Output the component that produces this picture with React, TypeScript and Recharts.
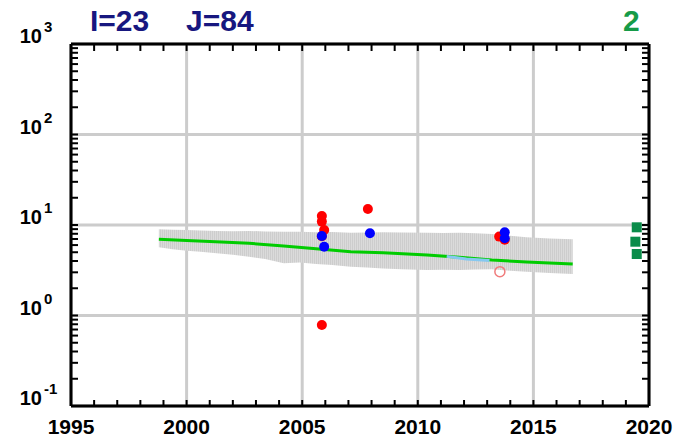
import React from 'react';
import { ComposedChart, XAxis, YAxis, CartesianGrid, Area, Line, Scatter } from 'recharts';

// axis ticks
const yearLabels = [1995, 2000, 2005, 2010, 2015, 2020];
const yearTicks = [1995, 1996, 1997, 1998, 1999, 2000, 2001, 2002, 2003, 2004, 2005, 2006, 2007, 2008, 2009, 2010, 2011, 2012, 2013, 2014, 2015, 2016, 2017, 2018, 2019, 2020];
const decades = [0.1, 1, 10, 100, 1000];
const mantissas = [1, 2, 3, 4, 5, 6, 7, 8, 9];
const minorTicks = decades.slice(0, 4).flatMap(d => mantissas.map(m => +(d * m).toPrecision(3))).concat([1000]);
const X_MIN = 1995, X_MAX = 2020, Y_MIN = 0.1, Y_MAX = 1000;

// grey spread band
const bandYears = [1998.8, 1999.4, 2000.0, 2000.6, 2001.3, 2002.0, 2002.7, 2003.4, 2004.2, 2004.9, 2005.6, 2006.3, 2007.1, 2007.8, 2008.5, 2009.3, 2010.4, 2011.1, 2011.8, 2012.5, 2013.2, 2014.0, 2014.7, 2015.7, 2016.7];
const bandHigh = [8.96, 8.85, 8.8, 8.7, 8.6, 8.55, 8.59, 8.5, 8.43, 8.4, 8.3, 8.35, 8.22, 8.28, 8.3, 8.25, 8.22, 8.15, 8.2, 8.1, 7.95, 7.6, 7.31, 7.1, 6.95];
const bandLow = [5.67, 5.4, 5.2, 5.05, 4.87, 4.7, 4.47, 4.2, 3.78, 3.85, 3.71, 3.62, 3.46, 3.4, 3.3, 3.25, 3.18, 3.2, 3.18, 3.22, 3.24, 3.12, 3.05, 2.95, 2.87];

// green trend line
const trendYears = [1998.8, 2000.0, 2001.5, 2002.7, 2004.2, 2005.6, 2007.1, 2008.5, 2010.4, 2011.8, 2013.2, 2014.7, 2016.7];
const trendVals = [6.95, 6.75, 6.5, 6.28, 5.86, 5.47, 5.07, 4.95, 4.66, 4.4, 4.11, 3.9, 3.71];

// light blue segment
const cyanYears = [2011.25, 2012.1, 2013.1];
const cyanVals = [4.5, 4.2, 4.05];

// observations
const redYears = [2005.85, 2005.85, 2005.95, 2005.85, 2007.84, 2013.52, 2013.76, 2005.85];
const redVals = [12.6, 10.9, 8.8, 7.5, 15.0, 7.44, 6.87, 0.785];
const blueYears = [2005.85, 2005.95, 2007.93, 2013.76, 2013.76];
const blueVals = [7.56, 5.76, 8.1, 8.3, 7.13];
const openYears = [2013.55];
const openVals = [3.05];
const squareYears = [2019.47, 2019.41, 2019.47];
const squareVals = [9.43, 6.54, 4.78];

const pts = (xs: number[], ys: number[]) => xs.map((x, i) => ({ x, y: ys[i] }));
const bandData = bandYears.map((x, i) => ({ x, range: [bandLow[i], bandHigh[i]] }));
const bottomTicks = yearTicks.map(x => ({ x, y: Y_MIN }));
const topTicks = yearTicks.map(x => ({ x, y: Y_MAX }));
const leftTicks = minorTicks.map(y => ({ x: X_MIN, y }));
const rightTicks = minorTicks.map(y => ({ x: X_MAX, y }));

const FONT = '"Liberation Sans", Arial, sans-serif';

const XTick = (props: any) => (
  <text x={props.x} y={434} textAnchor="middle" fontSize={21} fontWeight="bold" fontFamily={FONT} fill="#000">
    {props.payload.value}
  </text>
);

const YTick = (props: any) => {
  const exp = Math.round(Math.log10(props.payload.value));
  return (
    <g>
      <text x={42} y={props.y - 1} textAnchor="end" fontSize={20} fontWeight="bold" fontFamily={FONT} fill="#000">10</text>
      <text x={44} y={props.y - 12} textAnchor="start" fontSize={15} fontWeight="bold" fontFamily={FONT} fill="#000">{exp}</text>
    </g>
  );
};

const dot = (color: string) => (p: any) => <circle cx={p.cx} cy={p.cy} r={5} fill={color} />;
const ring = (p: any) => <circle cx={p.cx} cy={p.cy} r={5} fill="none" stroke="#f07c7c" strokeWidth={1.5} />;
const square = (p: any) => <rect x={p.cx - 5} y={p.cy - 5} width={10} height={10} fill="#0a8c4a" />;
// small inward tick marks on the frame
const mark = (dx: number, dy: number) => (p: any) =>
  <line x1={p.cx} y1={p.cy} x2={p.cx + dx} y2={p.cy + dy} stroke="#000" strokeWidth={2} />;

const frame = { stroke: '#000', strokeWidth: 3 };

export default function App() {
  return (
    <div style={{ position: 'absolute', left: 0, top: 0, width: 698, height: 443, background: '#fff' }}>
      <ComposedChart width={698} height={443} margin={{ top: 44, right: 49, bottom: 0, left: 0 }}>
        <defs>
          <pattern id="hatch" width="2" height="4" patternUnits="userSpaceOnUse">
            <rect x="0" y="0" width="1" height="4" fill="#cdcdcd" />
            <rect x="1" y="0" width="1" height="4" fill="#dbdbdb" />
          </pattern>
        </defs>
        <XAxis xAxisId="main" dataKey="x" type="number" domain={[X_MIN, X_MAX]} ticks={yearLabels} interval={0}
          allowDataOverflow height={37} tickLine={false} axisLine={frame} tick={<XTick />} />
        <XAxis xAxisId="top" orientation="top" type="number" domain={[X_MIN, X_MAX]} ticks={yearLabels}
          allowDataOverflow mirror tick={false} tickLine={false} axisLine={frame} />
        <YAxis yAxisId="main" type="number" scale="log" domain={[Y_MIN, Y_MAX]} ticks={decades} interval={0}
          allowDataOverflow width={71} tickLine={false} axisLine={frame} tick={<YTick />} />
        <YAxis yAxisId="right" orientation="right" type="number" scale="log" domain={[Y_MIN, Y_MAX]} ticks={decades}
          allowDataOverflow mirror tick={false} tickLine={false} axisLine={frame} />
        <CartesianGrid xAxisId="main" yAxisId="main" stroke="#cccccc" strokeWidth={3} />
        <Area xAxisId="main" yAxisId="main" data={bandData} dataKey="range" type="linear"
          fill="url(#hatch)" fillOpacity={1} stroke="none" isAnimationActive={false} />
        <Line xAxisId="main" yAxisId="main" data={pts(trendYears, trendVals)} dataKey="y" type="linear"
          stroke="#00cc00" strokeWidth={3} dot={false} isAnimationActive={false} />
        <Line xAxisId="main" yAxisId="main" data={pts(cyanYears, cyanVals)} dataKey="y" type="linear"
          stroke="#86c8f0" strokeWidth={3} dot={false} isAnimationActive={false} />
        <Scatter xAxisId="main" yAxisId="main" data={pts(redYears, redVals)} dataKey="y" shape={dot('#ff0000')} isAnimationActive={false} />
        <Scatter xAxisId="main" yAxisId="main" data={pts(blueYears, blueVals)} dataKey="y" shape={dot('#0000ff')} isAnimationActive={false} />
        <Scatter xAxisId="main" yAxisId="main" data={pts(openYears, openVals)} dataKey="y" shape={ring} isAnimationActive={false} />
        <Scatter xAxisId="main" yAxisId="main" data={pts(squareYears, squareVals)} dataKey="y" shape={square} isAnimationActive={false} />
        <Scatter xAxisId="main" yAxisId="main" data={bottomTicks} dataKey="y" shape={mark(0, -6)} isAnimationActive={false} />
        <Scatter xAxisId="main" yAxisId="main" data={topTicks} dataKey="y" shape={mark(0, 7)} isAnimationActive={false} />
        <Scatter xAxisId="main" yAxisId="main" data={leftTicks} dataKey="y" shape={mark(7, 0)} isAnimationActive={false} />
        <Scatter xAxisId="main" yAxisId="main" data={rightTicks} dataKey="y" shape={mark(-7, 0)} isAnimationActive={false} />
      </ComposedChart>
      <div style={{ position: 'absolute', left: 90, top: 6, fontFamily: FONT, fontWeight: 'bold', fontSize: 30, lineHeight: '30px', color: '#17177f' }}>I=23</div>
      <div style={{ position: 'absolute', left: 186, top: 6, fontFamily: FONT, fontWeight: 'bold', fontSize: 30, lineHeight: '30px', color: '#17177f' }}>J=84</div>
      <div style={{ position: 'absolute', left: 623, top: 6, fontFamily: FONT, fontWeight: 'bold', fontSize: 30, lineHeight: '30px', color: '#169b48' }}>2</div>
    </div>
  );
}
